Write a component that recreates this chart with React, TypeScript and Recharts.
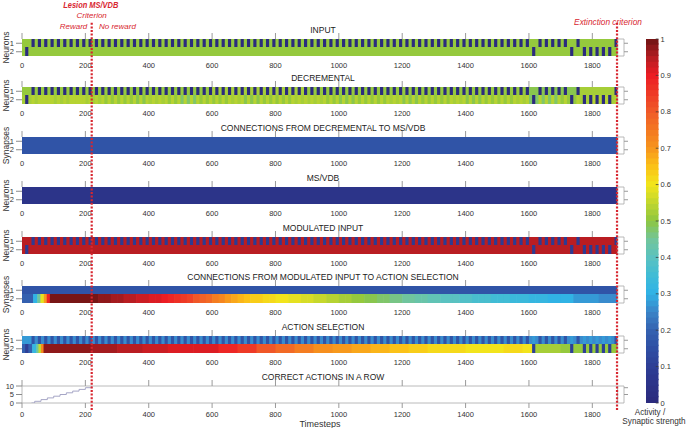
import React from 'react';
import { ComposedChart, XAxis, YAxis, ReferenceArea, ReferenceLine, Line } from 'recharts';

const W = 686;
const H = 428;
const FONT = '"Liberation Sans", Arial, Helvetica, sans-serif';

// ---------- time structure ----------
const T_END = 1880;
const X_MAX = 1900;
const LESION_T = 220;
const EXTINCTION_T = 1878;
const TRIAL_LEN = 20;
const BLOCK_START = 10;
const BLOCK_LEN = 10;

const xTicks = [0, 200, 400, 600, 800, 1000, 1200, 1400, 1600, 1800];
const rowTicks = [1, 2];
const colorTicks = [0, 0.1, 0.2, 0.3, 0.4, 0.5, 0.6, 0.7, 0.8, 0.9, 1];
const countTicks = [0, 5, 10];

// input neuron active in each trial
const activeNeuron = [
  2, 1, 1, 1, 1, 1, 1, 1, 1, 1,
  1, 1, 1, 1, 1, 1, 1, 1, 1, 1,
  1, 1, 1, 1, 1, 1, 1, 1, 1, 1,
  1, 1, 1, 1, 1, 1, 1, 1, 1, 1,
  1, 1, 1, 1, 1, 1, 1, 1, 1, 1,
  1, 1, 1, 1, 1, 1, 1, 1, 1, 1,
  1, 1, 1, 1, 1, 1, 1, 1, 1, 1,
  1, 1, 1, 1, 1, 1, 1, 1, 1, 1,
  2, 1, 1, 1, 1, 1, 2, 1, 2, 2,
  2, 2, 2, 1,
];

type Seg = [number, number];

// INPUT
const inputRestSegs: Seg[] = [[0, 0.5]];
const inputActive = 0.0;

// DECREMENTAL
const decRow1Segs: Seg[] = [[0, 0.51], [300, 0.5], [600, 0.52], [900, 0.5], [1200, 0.51], [1500, 0.5], [1600, 0.49], [1750, 0.53]];
const decRow2Segs: Seg[] = [
  [0, 0.53], [50, 0.54], [100, 0.53], [150, 0.54], [200, 0.52], [250, 0.5], [300, 0.51], [350, 0.49],
  [400, 0.52], [450, 0.5], [500, 0.48], [550, 0.51], [600, 0.5], [650, 0.52], [700, 0.49], [750, 0.51],
  [800, 0.5], [850, 0.52], [900, 0.53], [950, 0.5], [1000, 0.49], [1050, 0.51], [1100, 0.5], [1150, 0.52],
  [1200, 0.49], [1250, 0.51], [1300, 0.5], [1350, 0.52], [1400, 0.49], [1450, 0.51], [1500, 0.5], [1550, 0.52],
  [1600, 0.48], [1650, 0.47], [1700, 0.5], [1750, 0.53], [1800, 0.54], [1850, 0.52],
];
const decActive = 0.0;
const decRow2Other = 0.535;

// CONNECTIONS FROM DECREMENTAL TO MS/VDB
const connDecSegs: Seg[] = [[0, 0.16]];
// MS/VDB
const msvdbSegs: Seg[] = [[0, 0.05]];

// MODULATED INPUT
const modRestSegs: Seg[] = [[0, 0.95]];
const modActive = 0.08;

// CONNECTIONS FROM MODULATED INPUT TO ACTION SELECTION
const connMiRow1Segs: Seg[] = [[0, 0.16]];
const connMiRow2Segs: Seg[] = [
  [0, 0.2], [35, 0.3], [48, 0.45], [58, 0.58], [69, 0.7], [78, 0.88], [88, 1.0],
  [220, 0.99], [240, 0.98], [260, 0.97], [280, 0.965], [300, 0.96], [320, 0.95], [340, 0.94], [360, 0.935],
  [380, 0.93], [400, 0.92], [420, 0.91], [440, 0.9], [460, 0.88], [480, 0.865], [500, 0.85], [520, 0.83],
  [540, 0.81], [560, 0.79], [580, 0.77], [600, 0.745], [620, 0.72], [640, 0.7], [660, 0.68], [680, 0.665],
  [700, 0.65], [720, 0.64], [740, 0.63], [760, 0.62], [780, 0.61], [800, 0.605], [820, 0.6], [840, 0.59],
  [860, 0.58], [880, 0.575], [900, 0.57], [920, 0.56], [940, 0.55], [960, 0.545], [980, 0.54], [1000, 0.53],
  [1020, 0.52], [1040, 0.51], [1060, 0.5], [1080, 0.495], [1100, 0.49], [1120, 0.48], [1140, 0.47], [1160, 0.465],
  [1180, 0.46], [1200, 0.45], [1220, 0.44], [1240, 0.435], [1260, 0.43], [1280, 0.42], [1300, 0.41], [1320, 0.405],
  [1340, 0.4], [1360, 0.395], [1380, 0.39], [1400, 0.38], [1420, 0.37], [1440, 0.365], [1460, 0.36], [1480, 0.355],
  [1500, 0.35], [1520, 0.345], [1540, 0.34], [1560, 0.335], [1580, 0.33], [1600, 0.325], [1620, 0.32], [1660, 0.31],
  [1700, 0.3], [1740, 0.28], [1780, 0.27], [1820, 0.26], [1860, 0.25],
];

// ACTION SELECTION
const actRow1Segs: Seg[] = [[0, 0.27], [40, 0.255]];
const actRow1Own = 0.165;
const actRow1Other = 0.28;
const actRow2Segs: Seg[] = [
  [0, 0.2], [32, 0.32], [45, 0.45], [52, 0.56], [60, 0.72], [68, 0.97],
  [220, 0.96], [300, 0.95], [380, 0.93], [460, 0.92], [540, 0.91], [620, 0.89], [680, 0.85],
  [740, 0.8], [800, 0.77], [860, 0.74], [920, 0.71], [980, 0.7], [1040, 0.68], [1100, 0.66],
  [1160, 0.65], [1220, 0.63], [1280, 0.62], [1340, 0.61], [1400, 0.6], [1460, 0.6], [1520, 0.61],
  [1580, 0.6], [1610, 0.52], [1700, 0.51], [1760, 0.5], [1820, 0.5],
];
const actRow2Own = 0.1;

// CORRECT ACTIONS IN A ROW
const correctT = [30, 40, 60, 80, 100, 120, 140, 160, 180, 200, 220];
const correctCount = [0, 1, 2, 3, 4, 5, 6, 7, 8, 9, 10];

// ---------- colormap ----------
const cmapStops: [number, string][] = [
  [0.0, '#2b2a7c'], [0.05, '#2c3388'], [0.1, '#2e3e96'], [0.15, '#2f4fa3'], [0.2, '#3462b0'],
  [0.25, '#3b84c8'], [0.3, '#2fb2e6'], [0.35, '#40bcd6'], [0.4, '#5bc2c0'], [0.45, '#72c59a'],
  [0.5, '#8dc640'], [0.55, '#c2d72e'], [0.6, '#f2e51c'], [0.65, '#fbc118'], [0.7, '#f7951d'],
  [0.75, '#f47822'], [0.8, '#f05a28'], [0.85, '#ee3a26'], [0.9, '#ec1c24'], [0.95, '#b41d22'],
  [1.0, '#6d1313'],
];
function hexRgb(h: string) {
  return [parseInt(h.slice(1, 3), 16), parseInt(h.slice(3, 5), 16), parseInt(h.slice(5, 7), 16)];
}
function cmap(v: number) {
  const x = Math.max(0, Math.min(1, v));
  for (let i = 0; i < cmapStops.length - 1; i++) {
    const [a, ca] = cmapStops[i];
    const [b, cb] = cmapStops[i + 1];
    if (x <= b) {
      const f = (x - a) / (b - a);
      const A = hexRgb(ca);
      const B = hexRgb(cb);
      const c = A.map((q, k) => Math.round(q + (B[k] - q) * f));
      return `rgb(${c[0]},${c[1]},${c[2]})`;
    }
  }
  return cmapStops[cmapStops.length - 1][1];
}
const LEVELS = 64;
function qcolor(v: number) {
  const idx = Math.min(LEVELS - 1, Math.max(0, Math.floor(v * LEVELS)));
  return cmap((idx + 0.5) / LEVELS);
}

// ---------- panels ----------
type RowSpec = { segs: Seg[]; own?: number; other?: number };
type PanelSpec = { title: string; ylabel: string; top: number; rows: RowSpec[] };

const panels: PanelSpec[] = [
  { title: 'INPUT', ylabel: 'Neurons', top: 39, rows: [{ segs: inputRestSegs, own: inputActive }, { segs: inputRestSegs, own: inputActive }] },
  { title: 'DECREMENTAL', ylabel: 'Neurons', top: 87, rows: [{ segs: decRow1Segs, own: decActive }, { segs: decRow2Segs, own: decActive, other: decRow2Other }] },
  { title: 'CONNECTIONS FROM DECREMENTAL TO MS/VDB', ylabel: 'Synapses', top: 137, rows: [{ segs: connDecSegs }, { segs: connDecSegs }] },
  { title: 'MS/VDB', ylabel: 'Neurons', top: 187, rows: [{ segs: msvdbSegs }, { segs: msvdbSegs }] },
  { title: 'MODULATED INPUT', ylabel: 'Neurons', top: 237, rows: [{ segs: modRestSegs, own: modActive }, { segs: modRestSegs, own: modActive }] },
  { title: 'CONNECTIONS FROM MODULATED INPUT TO ACTION SELECTION', ylabel: 'Synapses', top: 286, rows: [{ segs: connMiRow1Segs }, { segs: connMiRow2Segs }] },
  { title: 'ACTION SELECTION', ylabel: 'Neurons', top: 336, rows: [{ segs: actRow1Segs, own: actRow1Own, other: actRow1Other }, { segs: actRow2Segs, own: actRow2Own }] },
];
const COUNT_TOP = 386;
const COUNT_TITLE = 'CORRECT ACTIONS IN A ROW';

type Cell = { x1: number; x2: number; y1: number; y2: number; fill: string };
function buildCells(rows: RowSpec[]): Cell[] {
  const cells: Cell[] = [];
  rows.forEach((spec, ri) => {
    const row = ri + 1;
    const y1 = row === 1 ? 0.5 : 1.44;
    const y2 = row === 1 ? 1.5 : 2.5;
    spec.segs.forEach(([s, v], i) => {
      const next = i + 1 < spec.segs.length ? spec.segs[i + 1][0] + 2 : T_END;
      cells.push({ x1: s, x2: Math.min(next, T_END), y1, y2, fill: qcolor(v) });
    });
    activeNeuron.forEach((n, k) => {
      const v = n === row ? spec.own : spec.other;
      if (v === undefined) return;
      const s = k * TRIAL_LEN + BLOCK_START;
      cells.push({ x1: s, x2: Math.min(s + BLOCK_LEN, T_END), y1, y2, fill: qcolor(v) });
    });
  });
  return cells;
}

const frame = [{ t: 0 }, { t: T_END }];
const TOP_H = 6;
const PLOT_H = 17;
const BOT_H = 14;
const LEFT_W = 22;
const RIGHT_W = 62;
const tickFont = { fontSize: 7.5, fill: '#333' };
const emptyTick = () => <g />;

function HeatPanel({ spec }: { spec: PanelSpec }) {
  const cells = buildCells(spec.rows);
  return (
    <div style={{ position: 'absolute', left: 0, top: spec.top - TOP_H }}>
      <ComposedChart width={W} height={TOP_H + PLOT_H + BOT_H} data={frame} margin={{ top: 0, right: 0, bottom: 0, left: 0 }}>
        <XAxis xAxisId="t" orientation="top" dataKey="t" type="number" domain={[0, X_MAX]} ticks={xTicks} interval={0}
          height={TOP_H} tickSize={6} axisLine={false} tickLine={{ stroke: '#9a9a9a' }} tick={emptyTick} allowDataOverflow />
        <XAxis xAxisId="b" orientation="bottom" dataKey="t" type="number" domain={[0, X_MAX]} ticks={xTicks} interval={0}
          height={BOT_H} tickSize={4} tickMargin={3} axisLine={false} tickLine={false} tick={tickFont} allowDataOverflow />
        <YAxis yAxisId="l" type="number" domain={[0.5, 2.5]} reversed ticks={rowTicks} interval={0} width={LEFT_W}
          tickSize={6} tickMargin={2} axisLine={false} tickLine={{ stroke: '#8a8a8a' }} tick={tickFont} allowDataOverflow />
        <YAxis yAxisId="r" orientation="right" type="number" domain={[0.5, 2.5]} reversed ticks={rowTicks} interval={0} width={RIGHT_W}
          tickSize={4} axisLine={false} tickLine={{ stroke: '#9a9a9a' }} tick={emptyTick} allowDataOverflow />
        {cells.map((c, i) => (
          <ReferenceArea key={i} xAxisId="b" yAxisId="l" x1={c.x1} x2={c.x2} y1={c.y1} y2={c.y2}
            fill={c.fill} fillOpacity={1} stroke="none" ifOverflow="visible" />
        ))}
        <ReferenceArea xAxisId="b" yAxisId="l" x1={T_END} x2={X_MAX} y1={0.5} y2={2.5} fill="#ffffff" fillOpacity={1}
          stroke="#a8a8a8" strokeWidth={0.8} ifOverflow="visible" />
      </ComposedChart>
    </div>
  );
}

const correctData = correctT.map((t, i) => ({ t, count: correctCount[i] }));

function CountPanel() {
  const bot = 16;
  return (
    <div style={{ position: 'absolute', left: 0, top: COUNT_TOP - TOP_H }}>
      <ComposedChart width={W} height={TOP_H + PLOT_H + bot} data={correctData} margin={{ top: 0, right: 0, bottom: 0, left: 0 }}>
        <XAxis xAxisId="t" orientation="top" dataKey="t" type="number" domain={[0, X_MAX]} ticks={xTicks} interval={0}
          height={TOP_H} tickSize={6} axisLine={false} tickLine={{ stroke: '#9a9a9a' }} tick={emptyTick} allowDataOverflow />
        <XAxis xAxisId="b" orientation="bottom" dataKey="t" type="number" domain={[0, X_MAX]} ticks={xTicks} interval={0}
          height={bot} tickSize={5} tickMargin={4} axisLine={false} tickLine={{ stroke: '#9a9a9a' }} tick={tickFont} allowDataOverflow />
        <YAxis yAxisId="l" type="number" domain={[0, 10]} ticks={countTicks} interval={0} width={LEFT_W}
          tickSize={6} tickMargin={2} axisLine={false} tickLine={{ stroke: '#8a8a8a' }} tick={tickFont} allowDataOverflow />
        <YAxis yAxisId="r" orientation="right" type="number" domain={[0, 10]} ticks={[5, 9]} interval={0} width={RIGHT_W}
          tickSize={4} axisLine={false} tickLine={{ stroke: '#9a9a9a' }} tick={emptyTick} allowDataOverflow />
        <ReferenceArea xAxisId="b" yAxisId="l" x1={0} x2={T_END} y1={0} y2={10} fill="none" stroke="#a8a8a8" strokeWidth={0.8} ifOverflow="visible" />
        <ReferenceArea xAxisId="b" yAxisId="l" x1={T_END} x2={X_MAX} y1={0} y2={10} fill="#ffffff" fillOpacity={1} stroke="#a8a8a8" strokeWidth={0.8} ifOverflow="visible" />
        <Line xAxisId="b" yAxisId="l" type="stepAfter" dataKey="count" stroke="#a6a6c6" strokeWidth={1} dot={false} isAnimationActive={false} />
      </ComposedChart>
    </div>
  );
}

const frame01 = [{ x: 0 }, { x: 1 }];
const levelIdx = Array.from({ length: LEVELS }, (_, i) => i);

function ColorBar() {
  return (
    <div style={{ position: 'absolute', left: 646, top: 0 }}>
      <ComposedChart width={40} height={H} data={frame01} margin={{ top: 39, right: 0, bottom: 25, left: 0 }}>
        <XAxis xAxisId="c" type="number" dataKey="x" domain={[0, 1]} hide allowDataOverflow />
        <YAxis yAxisId="c" orientation="right" type="number" domain={[0, 1]} ticks={colorTicks} interval={0} width={27.5}
          tickSize={0} tickMargin={2} axisLine={false} tickLine={false} tick={tickFont} allowDataOverflow />
        {levelIdx.map((i) => (
          <ReferenceArea key={i} xAxisId="c" yAxisId="c" x1={0} x2={1} y1={i / LEVELS} y2={Math.min(1, (i + 1) / LEVELS + 0.004)}
            fill={cmap((i + 0.5) / LEVELS)} fillOpacity={1} stroke="none" ifOverflow="visible" />
        ))}
        {colorTicks.map((v) => (
          <ReferenceLine key={v} xAxisId="c" yAxisId="c" segment={[{ x: 0.78, y: v }, { x: 1, y: v }]} stroke="#3a3a3a" strokeWidth={0.8} ifOverflow="visible" />
        ))}
      </ComposedChart>
    </div>
  );
}

function Markers() {
  return (
    <div style={{ position: 'absolute', left: 0, top: 0, pointerEvents: 'none' }}>
      <ComposedChart width={W} height={H} data={frame} margin={{ top: 22, right: RIGHT_W, bottom: 18, left: LEFT_W }}>
        <XAxis xAxisId="m" type="number" dataKey="t" domain={[0, X_MAX]} hide allowDataOverflow />
        <YAxis yAxisId="m" type="number" domain={[0, 1]} hide allowDataOverflow />
        <ReferenceLine xAxisId="m" yAxisId="m" x={LESION_T} stroke="#d8262f" strokeWidth={2.2} strokeDasharray="2 1.6" ifOverflow="visible" />
        <ReferenceLine xAxisId="m" yAxisId="m" x={EXTINCTION_T} stroke="#d8262f" strokeWidth={2.2} strokeDasharray="2 1.6" ifOverflow="visible" />
      </ComposedChart>
    </div>
  );
}

const RED = '#d8262f';

export default function App() {
  return (
    <div style={{ position: 'absolute', left: 0, top: 0, width: W, height: H, background: '#fff', fontFamily: FONT, overflow: 'hidden' }}>
      <svg width={W} height={H} style={{ position: 'absolute', left: 0, top: 0 }} fontFamily={FONT}>
        {panels.map((p) => (
          <text key={p.title} x={323} y={p.top - 9} textAnchor="middle" dominantBaseline="central" fontSize={8.5} fill="#222">{p.title}</text>
        ))}
        <text x={323} y={COUNT_TOP - 9} textAnchor="middle" dominantBaseline="central" fontSize={8.5} fill="#222">{COUNT_TITLE}</text>
        {panels.map((p) => (
          <text key={'y' + p.title} x={5.5} y={p.top + PLOT_H / 2} textAnchor="middle" dominantBaseline="central" fontSize={8.5} fill="#333"
            transform={`rotate(-90 5.5 ${p.top + PLOT_H / 2})`}>{p.ylabel}</text>
        ))}
        <text x={63.3} y={8} fontSize={8.5} fontWeight="bold" fontStyle="italic" fill={RED} textLength={55} lengthAdjust="spacingAndGlyphs">Lesion MS/VDB</text>
        <text x={91.7} y={18} textAnchor="middle" fontSize={8} fontStyle="italic" fill={RED}>Criterion</text>
        <text x={87.3} y={28.5} textAnchor="end" fontSize={8} fontStyle="italic" fill={RED}>Reward</text>
        <text x={99} y={28.5} fontSize={8} fontStyle="italic" fill={RED}>No reward</text>
        <text x={608} y={25} textAnchor="middle" fontSize={8.3} fontStyle="italic" fill={RED}>Extinction criterion</text>
        <text x={320} y={427} textAnchor="middle" fontSize={9} fill="#333">Timesteps</text>
        <text x={650} y={415} textAnchor="middle" fontSize={8.2} fill="#333">Activity /</text>
        <text x={654} y={424} textAnchor="middle" fontSize={8.2} fill="#333">Synaptic strength</text>
      </svg>
      {panels.map((p) => (
        <HeatPanel key={p.title} spec={p} />
      ))}
      <CountPanel />
      <ColorBar />
      <Markers />
    </div>
  );
}
